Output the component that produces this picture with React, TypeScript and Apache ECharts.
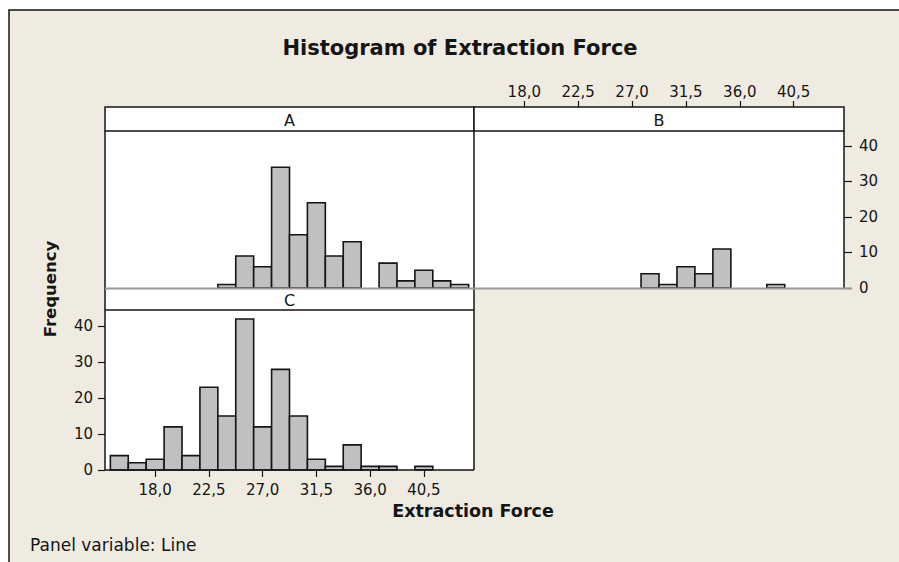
import React, { useEffect, useRef } from "react";
import * as echarts from "echarts";

// ---- data ----
const BIN_WIDTH = 1.5;
const xTicks = [18, 22.5, 27, 31.5, 36, 40.5];
const yTicks = [0, 10, 20, 30, 40];

const centersA = [24, 25.5, 27, 28.5, 30, 31.5, 33, 34.5, 36, 37.5, 39, 40.5, 42, 43.5];
const countsA = [1, 9, 6, 34, 15, 24, 9, 13, 0, 7, 2, 5, 2, 1];

const centersB = [28.5, 30, 31.5, 33, 34.5, 36, 37.5, 39];
const countsB = [4, 1, 6, 4, 11, 0, 0, 1];

const centersC = [15, 16.5, 18, 19.5, 21, 22.5, 24, 25.5, 27, 28.5, 30, 31.5, 33, 34.5, 36, 37.5, 39, 40.5];
const countsC = [4, 2, 3, 12, 4, 23, 15, 42, 12, 28, 15, 3, 1, 7, 1, 1, 0, 1];

const FONT = "'DejaVu Sans', Verdana, sans-serif";
const BG = "#efebe1";
const INK = "#151515";

function pairs(c: number[], v: number[]) {
  return c.map((x, i) => [x, v[i]]);
}

function renderBar(params: any, api: any) {
  const c = api.value(0);
  const v = api.value(1);
  if (!v) return null;
  const p0 = api.coord([c - BIN_WIDTH / 2, v]);
  const p1 = api.coord([c + BIN_WIDTH / 2, 0]);
  return {
    type: "rect",
    shape: { x: p0[0], y: p0[1], width: p1[0] - p0[0], height: p1[1] - p0[1] },
    style: { fill: "#c0c0c0", stroke: INK, lineWidth: 1.6 },
  };
}

export default function App() {
  const ref = useRef<HTMLDivElement>(null);
  useEffect(() => {
    if (!ref.current) return;
    const chart = echarts.init(ref.current, undefined, { renderer: "svg" });
    const fmt = (v: number) => v.toFixed(1).replace(".", ",");
    const X_MIN = 13.8;
    const X_MAX = 44.7;
    const Y_MAX_AB = 44.2;
    const Y_MAX_C = 44.5;

    const tickLabel = { fontFamily: FONT, fontSize: 15, color: INK };

    const line = (x1: number, y1: number, x2: number, y2: number, color = INK, w = 1.5) => ({
      type: "line",
      z: 100,
      shape: { x1, y1, x2, y2 },
      style: { stroke: color, lineWidth: w },
    });
    const txt = (text: string, x: number, y: number, size: number, weight = "normal", extra: any = {}) => ({
      type: "text",
      z: 100,
      x,
      y,
      ...extra,
      style: {
        text,
        fontFamily: FONT,
        fontSize: size,
        fontWeight: weight,
        fill: INK,
        align: "center",
        verticalAlign: "middle",
      },
    });

    chart.setOption({
      animation: false,
      backgroundColor: "#ffffff",
      grid: [
        { left: 105, top: 131, width: 369, height: 157, show: true, backgroundColor: "#fff", borderWidth: 0 },
        { left: 474, top: 131, width: 370, height: 157, show: true, backgroundColor: "#fff", borderWidth: 0 },
        { left: 105, top: 310, width: 369, height: 160, show: true, backgroundColor: "#fff", borderWidth: 0 },
      ],
      xAxis: [
        { gridIndex: 0, type: "value", min: X_MIN, max: X_MAX, show: false, axisLine: { onZero: false }, splitLine: { show: false } },
        {
          gridIndex: 1,
          type: "value",
          min: X_MIN,
          max: X_MAX,
          position: "top",
          offset: 24,
          axisLine: { show: false, onZero: false },
          splitLine: { show: false },
          axisTick: { show: true, length: 6, customValues: xTicks, lineStyle: { color: INK, width: 1.2 } },
          axisLabel: { customValues: xTicks, formatter: fmt, margin: 8, ...tickLabel },
        },
        {
          gridIndex: 2,
          type: "value",
          min: X_MIN,
          max: X_MAX,
          position: "bottom",
          axisLine: { show: false, onZero: false },
          splitLine: { show: false },
          axisTick: { show: true, length: 7, customValues: xTicks, lineStyle: { color: INK, width: 1.2 } },
          axisLabel: { customValues: xTicks, formatter: fmt, margin: 12, ...tickLabel },
        },
      ],
      yAxis: [
        { gridIndex: 0, type: "value", min: 0, max: Y_MAX_AB, show: false, axisLine: { onZero: false }, splitLine: { show: false } },
        {
          gridIndex: 1,
          type: "value",
          min: 0,
          max: Y_MAX_AB,
          position: "right",
          axisLine: { show: false, onZero: false },
          splitLine: { show: false },
          axisTick: { show: true, length: 8, customValues: yTicks, lineStyle: { color: INK, width: 1.2 } },
          axisLabel: { customValues: yTicks, margin: 15, ...tickLabel },
        },
        {
          gridIndex: 2,
          type: "value",
          min: 0,
          max: Y_MAX_C,
          position: "left",
          axisLine: { show: false, onZero: false },
          splitLine: { show: false },
          axisTick: { show: true, length: 7, customValues: yTicks, lineStyle: { color: INK, width: 1.2 } },
          axisLabel: { customValues: yTicks, margin: 12, ...tickLabel },
        },
      ],
      series: [
        { type: "custom", xAxisIndex: 0, yAxisIndex: 0, renderItem: renderBar, data: pairs(centersA, countsA), z: 5 },
        { type: "custom", xAxisIndex: 1, yAxisIndex: 1, renderItem: renderBar, data: pairs(centersB, countsB), z: 5 },
        { type: "custom", xAxisIndex: 2, yAxisIndex: 2, renderItem: renderBar, data: pairs(centersC, countsC), z: 5 },
      ],
      graphic: [
        // outer beige frame
        { type: "rect", z: -10, shape: { x: 9, y: 10, width: 950, height: 600 }, style: { fill: BG, stroke: INK, lineWidth: 1.5 } },
        // header strips
        { type: "rect", z: 90, shape: { x: 105, y: 107, width: 369, height: 24 }, style: { fill: "#fff", stroke: INK, lineWidth: 1.5 } },
        { type: "rect", z: 90, shape: { x: 474, y: 107, width: 370, height: 24 }, style: { fill: "#fff", stroke: INK, lineWidth: 1.5 } },
        { type: "rect", z: 90, shape: { x: 105, y: 289, width: 369, height: 21 }, style: { fill: "#fff", stroke: "none" } },
        line(105, 310, 474, 310),
        // panel borders
        line(105, 131, 105, 470),
        line(474, 131, 474, 288),
        line(474, 289, 474, 470),
        line(844, 131, 844, 288),
        line(105, 470, 474, 470),
        // zero lines of A and B
        line(105, 288.5, 852, 288.5, "#9a9a9a", 2),
        // strip labels
        txt("A", 289.5, 120, 16),
        txt("B", 659, 120, 16),
        txt("C", 289.5, 300, 16),
        // titles
        txt("Histogram of Extraction Force", 460, 48, 21, "bold"),
        txt("Extraction Force", 473, 511, 17.5, "bold"),
        txt("Frequency", 50, 289, 16.5, "bold", { rotation: Math.PI / 2 }),
        {
          type: "text",
          z: 100,
          x: 30,
          y: 545,
          style: { text: "Panel variable: Line", fontFamily: FONT, fontSize: 17, fill: INK, align: "left", verticalAlign: "middle" },
        },
      ],
    });
    return () => chart.dispose();
  }, []);
  return (
    <div
      ref={ref}
      style={{ position: "fixed", left: 0, top: 0, width: 899, height: 562 }}
    />
  );
}
